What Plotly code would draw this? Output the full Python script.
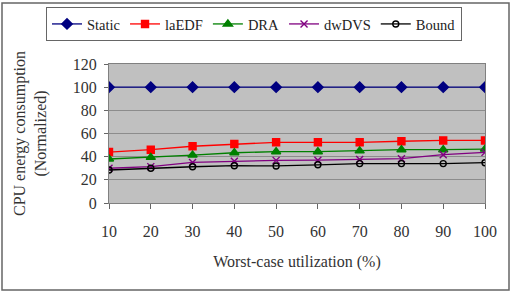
import plotly.graph_objects as go

utilization = [10, 20, 30, 40, 50, 60, 70, 80, 90, 100]
static = [100, 100, 100, 100, 100, 100, 100, 100, 100, 100]
laedf = [44, 46, 49, 51, 52.4, 52.4, 52.4, 53.3, 54, 54]
dra = [38, 39.4, 41.4, 43.4, 44.3, 44.3, 45, 46, 46, 46.5]
dwdvs = [30, 31.4, 35, 36, 36.8, 37, 37.5, 38.3, 41.7, 43.7]
bound = [28.5, 30, 31.3, 32.2, 32, 33, 34, 34, 34, 34.8]
yticks = [0, 20, 40, 60, 80, 100, 120]

W, H = 514, 292
L, R, T, B = 109, 485, 64, 203
pw, ph = R - L, B - T

def px(x):
    return (x - L) / pw

def py(y):
    return (B - y) / ph

FONT = "Liberation Serif, Times New Roman, serif"
FS = 16

fig = go.Figure()
series = [
    ("Static", static, "#000080", "diamond", 8),
    ("laEDF", laedf, "#FF0000", "square", 7),
    ("DRA", dra, "#008000", "triangle-up", 8),
    ("dwDVS", dwdvs, "#800080", "x-thin-open", 7),
    ("Bound", bound, "#000000", "circle-open", 6),
]
for name, ys, col, sym, sz in series:
    fig.add_trace(go.Scatter(
        x=utilization, y=ys, name=name, mode="lines+markers",
        line=dict(color=col, width=1.3),
        marker=dict(symbol=sym, size=sz, color=col, line=dict(color=col, width=1.4)),
    ))

fig.update_layout(
    width=W, height=H,
    margin=dict(l=L, r=W - R, t=T, b=H - B, autoexpand=False),
    paper_bgcolor="white",
    plot_bgcolor="#C0C0C0",
    font=dict(family=FONT, size=FS, color="#333333"),
    showlegend=True,
    legend=dict(
        orientation="h", x=px(46), y=py(7), xanchor="left", yanchor="top",
        bordercolor="#666666", borderwidth=1, bgcolor="white",
        font=dict(family=FONT, size=14.5, color="#222222"),
        itemwidth=30, tracegroupgap=0,
    ),
    xaxis=dict(
        range=[10, 100], tickvals=utilization, ticktext=[str(v) for v in utilization],
        showgrid=False, zeroline=False, automargin=False,
        showline=True, linecolor="#808080", linewidth=1, mirror=True,
        ticks="outside", ticklen=5, tickcolor="#666666",
        tickfont=dict(family=FONT, size=FS, color="#333333"),
        ticklabelstandoff=9,
        title=dict(text="Worst-case utilization (%)", standoff=16,
                   font=dict(family=FONT, size=FS, color="#333333")),
    ),
    yaxis=dict(
        range=[0, 120], tickvals=yticks, automargin=False,
        showgrid=True, gridcolor="#8C8C8C", gridwidth=1, zeroline=False,
        showline=True, linecolor="#808080", linewidth=1, mirror=True,
        ticks="outside", ticklen=4, tickcolor="#666666", ticklabelstandoff=4,
        tickfont=dict(family=FONT, size=FS, color="#333333"),
        title=dict(text="CPU energy consumption<br>(Normalized)", standoff=22,
                   font=dict(family=FONT, size=FS, color="#333333")),
    ),
    shapes=[dict(type="rect", xref="paper", yref="paper",
                 x0=px(2), x1=px(509), y0=py(290), y1=py(3),
                 line=dict(color="#666666", width=1.5), layer="below")],
)

fig.write_html("out.html")
